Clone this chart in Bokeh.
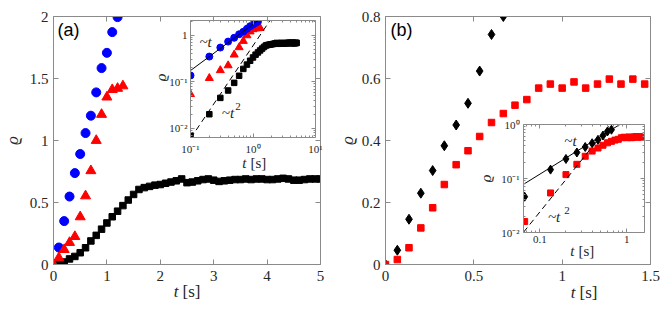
import math
from bokeh.plotting import figure
from bokeh.models import (Range1d, FixedTicker, LinearAxis, LogAxis, Label,
                          GridBox)
from bokeh.embed import file_html
from bokeh.resources import INLINE

# ---------------- data: panel (a) ----------------
t_a_blue = [0.0, 0.1, 0.2, 0.3, 0.4, 0.5, 0.6, 0.7, 0.8, 0.9, 1.0, 1.1, 1.2]
rho_a_blue = [0.0, 0.137, 0.35, 0.548, 0.737, 0.891, 1.06, 1.20, 1.388, 1.584,
              1.707, 1.874, 1.995]

t_a_red = [0.0, 0.1, 0.2, 0.3, 0.4, 0.5, 0.6, 0.7, 0.8, 0.9, 1.0, 1.1, 1.2, 1.3]
rho_a_red = [0.0, 0.054, 0.12, 0.177, 0.225, 0.384, 0.553, 0.756, 1.0, 1.21,
             1.35, 1.41, 1.42, 1.44]

t_a_black = [0.0, 0.1, 0.2, 0.3, 0.4, 0.5, 0.6, 0.7, 0.8, 0.9,
             1.0, 1.1, 1.2, 1.3, 1.4, 1.5, 1.6, 1.7, 1.8, 1.9,
             2.0, 2.1, 2.2, 2.3, 2.4, 2.5, 2.6, 2.7, 2.8, 2.9,
             3.0, 3.1, 3.2, 3.3, 3.4, 3.5, 3.6, 3.7, 3.8, 3.9,
             4.0, 4.1, 4.2, 4.3, 4.4, 4.5, 4.6, 4.7, 4.8, 4.9, 5.0]
rho_a_black = [0.0, 0.007, 0.02, 0.045, 0.065, 0.095, 0.135, 0.19, 0.235, 0.285,
               0.335, 0.385, 0.43, 0.475, 0.52, 0.565, 0.605, 0.62, 0.63, 0.64,
               0.645, 0.655, 0.665, 0.675, 0.69, 0.66, 0.665, 0.675, 0.685, 0.69,
               0.68, 0.67, 0.675, 0.68, 0.685, 0.685, 0.69, 0.685, 0.69, 0.69,
               0.685, 0.685, 0.69, 0.695, 0.69, 0.68, 0.68, 0.685, 0.69, 0.69, 0.69]

# guide lines of inset (a):  ~t and ~t^2
guide_a_t_lin = [0.1, 1.3]
guide_a_rho_lin = [0.175, 2.275]
guide_a_t_sq = [0.1, 2.0]
guide_a_rho_sq = [0.006, 2.4]

# ---------------- data: panel (b) ----------------
t_b_dia = [0.0, 0.067, 0.133, 0.2, 0.267, 0.333, 0.4, 0.467, 0.533, 0.6, 0.667]
rho_b_dia = [0.0, 0.046, 0.146, 0.23, 0.303, 0.383, 0.45, 0.52, 0.624, 0.742, 0.8]

t_b_sq = [0.0, 0.067, 0.133, 0.2, 0.267, 0.333, 0.4, 0.467, 0.533, 0.6, 0.667,
          0.733, 0.8, 0.867, 0.933, 1.0, 1.067, 1.133, 1.2, 1.267, 1.333, 1.4, 1.467]
rho_b_sq = [0.0, 0.016, 0.054, 0.118, 0.183, 0.258, 0.322, 0.367, 0.413, 0.458,
            0.487, 0.514, 0.532, 0.569, 0.582, 0.569, 0.589, 0.569, 0.582, 0.598,
            0.582, 0.598, 0.582]

guide_b_t_lin = [0.065, 1.0]
guide_b_rho_lin = [0.078, 1.2]
guide_b_t_sq = [0.065, 0.7]
guide_b_rho_sq = [0.0101, 1.176]

# ---------------- ticks ----------------
a_xticks = [0, 1, 2, 3, 4, 5]
a_xlabels = ["0", "1", "2", "3", "4", "5"]
a_yticks = [0, 0.5, 1, 1.5, 2]
a_ylabels = ["0", "0.5", "1", "1.5", "2"]
b_xticks = [0, 0.5, 1, 1.5]
b_xlabels = ["0", "0.5", "1", "1.5"]
b_yticks = [0, 0.2, 0.4, 0.6, 0.8]
b_ylabels = ["0", "0.2", "0.4", "0.6", "0.8"]

ai_xticks = [0.1, 1, 10]
ai_xlabels = ["10\u207b\u00b9", "10\u2070", "10\u00b9"]
ai_yticks = [0.01, 0.1, 1]
ai_ylabels = ["10\u207b\u00b2", "10\u207b\u00b9", "1"]
bi_xticks = [0.1, 1]
bi_xlabels = ["0.1", "1"]
bi_yticks = [0.01, 0.1, 1]
bi_ylabels = ["10\u207b\u00b2", "10\u207b\u00b9", "10\u2070"]


def log_minor(lo_exp, hi_exp):
    out = []
    for e in range(lo_exp, hi_exp):
        for m in range(2, 10):
            out.append(m * 10.0 ** e)
    return out


AX = "#8a8a8a"
TXT = "#262626"
SERIF = "Liberation Serif"
BLUE = "#0000FF"
RED = "#FF0000"


def make_fig(w, h, l, r, t, b, xr, yr, xtype="linear", ytype="linear"):
    p = figure(width=w, height=h, x_range=xr, y_range=yr,
               x_axis_type=xtype, y_axis_type=ytype,
               output_backend="svg", toolbar_location=None,
               min_border_left=l, min_border_right=r,
               min_border_top=t, min_border_bottom=b)
    p.background_fill_alpha = 0
    p.border_fill_alpha = 0
    p.outline_line_color = None
    p.xgrid.visible = False
    p.ygrid.visible = False
    return p


def box_axes(p, log, xticks, xlabels, yticks, ylabels, xminor, yminor,
             fs, tick_in, minor_in, xstand, ystand):
    Ax = LogAxis if log else LinearAxis
    p.add_layout(Ax(), "above")
    p.add_layout(Ax(), "right")
    xt = FixedTicker(ticks=xticks, minor_ticks=xminor)
    yt = FixedTicker(ticks=yticks, minor_ticks=yminor)
    for ax in list(p.xaxis) + list(p.yaxis):
        ax.axis_line_color = AX
        ax.major_tick_line_color = AX
        ax.minor_tick_line_color = AX if (xminor or yminor) else None
        ax.major_tick_in = tick_in
        ax.major_tick_out = 0
        ax.minor_tick_in = minor_in
        ax.minor_tick_out = 0
        ax.major_label_text_font = SERIF
        ax.major_label_text_color = TXT
        ax.major_label_text_font_size = fs
    for ax in p.xaxis:
        ax.ticker = xt
    for ax in p.yaxis:
        ax.ticker = yt
    p.below[0].major_label_overrides = dict(zip(xticks, xlabels))
    p.below[0].major_label_standoff = xstand
    p.left[0].major_label_overrides = dict(zip(yticks, ylabels))
    p.left[0].major_label_standoff = ystand
    for ax in (p.above[0], p.right[0]):
        ax.major_label_text_font_size = "1px"
        ax.major_label_text_color = None
        ax.major_label_standoff = 0


def txt(p, x, y, s, fs, italic=True, xoff=0, yoff=0, align="center", angle=0.0):
    p.add_layout(Label(x=x, y=y, x_offset=xoff, y_offset=yoff, text=s,
                       text_align=align, text_baseline="middle",
                       text_font=SERIF, angle=angle,
                       text_font_style="italic" if italic else "normal",
                       text_font_size=fs, text_color=TXT))


# ---------------- panel (a) main ----------------
pa = make_fig(330, 309, 53, 10, 16, 45, Range1d(0, 5), Range1d(0, 2))
box_axes(pa, False, a_xticks, a_xlabels, a_yticks, a_ylabels, [], [],
         "15px", 5, 0, 6, 5)
pa.scatter(t_a_blue, rho_a_blue, marker="circle", size=9, color=BLUE)
pa.scatter(t_a_black, rho_a_black, marker="square", size=6.5, color="black")
pa.scatter(t_a_red, rho_a_red, marker="triangle", size=10, color=RED)
pa.add_layout(Label(x=0, y=2, x_offset=4, y_offset=-3, text="(a)",
                    text_baseline="top", text_align="left",
                    text_font="Liberation Sans", text_font_size="18px",
                    text_color="black"))

# ---------------- panel (a) inset ----------------
pai = make_fig(178, 156, 42, 11, 4, 35, Range1d(0.1, 10), Range1d(0.0063, 2.1),
               "log", "log")
box_axes(pai, True, ai_xticks, ai_xlabels, ai_yticks, ai_ylabels,
         log_minor(-1, 1), log_minor(-3, 1), "11px", 4, 2, 5, 3)
pai.scatter(t_a_black[1:], rho_a_black[1:], marker="square", size=5.5, color="black")
pai.scatter(t_a_red[1:], rho_a_red[1:], marker="triangle", size=8, color=RED)
pai.scatter(t_a_blue[1:], rho_a_blue[1:], marker="circle", size=7, color=BLUE)
pai.line(guide_a_t_lin, guide_a_rho_lin, line_color="black", line_width=1)
pai.line(guide_a_t_sq, guide_a_rho_sq, line_color="black", line_width=1,
         line_dash="6 4")
txt(pai, 0.174, 0.74, "~t", "15px")
txt(pai, 0.398, 0.0215, "~t", "15px")
txt(pai, 0.398, 0.0215, "2", "11px", italic=False, xoff=10, yoff=6)

# ---------------- panel (b) main ----------------
pb = make_fig(334, 309, 55, 14, 16, 45, Range1d(0, 1.5), Range1d(0, 0.8))
box_axes(pb, False, b_xticks, b_xlabels, b_yticks, b_ylabels, [], [],
         "15px", 5, 0, 6, 5)
pb.scatter(t_b_dia, rho_b_dia, marker="diamond", size=10, color="black")
pb.scatter(t_b_sq, rho_b_sq, marker="square", size=6.5, color=RED)
pb.add_layout(Label(x=0, y=0.8, x_offset=5, y_offset=-3, text="(b)",
                    text_baseline="top", text_align="left",
                    text_font="Liberation Sans", text_font_size="18px",
                    text_color="black"))

# ---------------- panel (b) inset ----------------
pbi = make_fig(180, 142, 45, 14, 6, 28, Range1d(0.065, 1.6), Range1d(0.01, 1.0),
               "log", "log")
box_axes(pbi, True, bi_xticks, bi_xlabels, bi_yticks, bi_ylabels,
         log_minor(-2, 1), log_minor(-2, 0), "11px", 4, 2, 3, 4)
pbi.scatter(t_b_sq[1:], rho_b_sq[1:], marker="square", size=6, color=RED)
pbi.scatter(t_b_dia[1:], rho_b_dia[1:], marker="diamond", size=9, color="black")
pbi.line(guide_b_t_lin, guide_b_rho_lin, line_color="black", line_width=1)
pbi.line(guide_b_t_sq, guide_b_rho_sq, line_color="black", line_width=1,
         line_dash="6 4")
txt(pbi, 0.225, 0.5, "~t", "15px")
txt(pbi, 0.146, 0.019, "~t", "15px")
txt(pbi, 0.146, 0.019, "2", "11px", italic=False, xoff=13, yoff=7)

# ---------------- overlay for axis titles (page-pixel space) ----------------
ov = figure(width=664, height=309, x_range=Range1d(0, 664), y_range=Range1d(309, 0),
            output_backend="svg", toolbar_location=None,
            x_axis_location=None, y_axis_location=None,
            min_border=0, min_border_left=0, min_border_right=0,
            min_border_top=0, min_border_bottom=0)
ov.background_fill_alpha = 0
ov.border_fill_alpha = 0
ov.outline_line_color = None
ov.grid.visible = False

# (x, y, font size) of each axis title, in page pixels
xtitles = [(178, 291, "17px"), (575, 292, "17px"), (246, 162, "15px"), (574, 250, "15px")]
ytitles = [(12, 140, "17px"), (347, 140, "17px"), (160, 77, "15px"), (485, 178, "15px")]
for x, y, fs in xtitles:
    txt(ov, x, y, "t", fs, align="right")
    txt(ov, x, y, "[s]", fs, italic=False, xoff=4, align="left")
for x, y, fs in ytitles:
    txt(ov, x, y, "\u03f1", fs, angle=math.pi / 2)

# zero-width outer tracks keep the overlay from sharing grid lines with the panels
grid = GridBox(children=[(pa, 1, 1, 5, 3), (pai, 2, 2, 2, 1),
                         (pb, 1, 4, 5, 3), (pbi, 3, 5, 2, 1),
                         (ov, 0, 0, 7, 8)],
               rows=["0px", "16px", "102px", "54px", "88px", "49px", "0px"],
               cols=["0px", "148px", "178px", "4px", "148px", "180px", "6px", "0px"],
               spacing=0)

open("out.html", "w").write(file_html(grid, INLINE))
